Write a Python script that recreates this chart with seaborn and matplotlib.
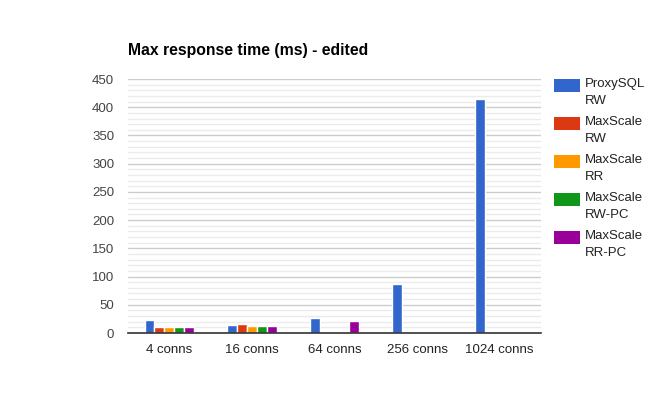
import numpy as np
import pandas as pd
import matplotlib
matplotlib.use("Agg")
import matplotlib.pyplot as plt
import seaborn as sns
from matplotlib.patches import Rectangle
from matplotlib.ticker import MultipleLocator

categories = ["4 conns", "16 conns", "64 conns", "256 conns", "1024 conns"]
series = ["ProxySQL RW", "MaxScale RW", "MaxScale RR", "MaxScale RW-PC", "MaxScale RR-PC"]
proxysql_rw = [23, 14, 27, 87, 415]
maxscale_rw = [11, 16.5, np.nan, np.nan, np.nan]
maxscale_rr = [11, 12.5, np.nan, np.nan, np.nan]
maxscale_rw_pc = [11, 12.5, np.nan, np.nan, np.nan]
maxscale_rr_pc = [11, 12.5, 21.5, np.nan, np.nan]
colors = ["#3366cc", "#dc3912", "#ff9900", "#109618", "#990099"]
legend_labels = ["ProxySQL\nRW", "MaxScale\nRW", "MaxScale\nRR", "MaxScale\nRW-PC", "MaxScale\nRR-PC"]

rows = []
for s, vals in zip(series, [proxysql_rw, maxscale_rw, maxscale_rr, maxscale_rw_pc, maxscale_rr_pc]):
    for c, v in zip(categories, vals):
        rows.append({"conns": c, "series": s, "value": v})
df = pd.DataFrame(rows)

sns.set_theme(style="white")
plt.rcParams['font.family'] = ['Liberation Sans', 'DejaVu Sans']

W, H = 668, 413
fig = plt.figure(figsize=(W / 100, H / 100), dpi=100)
ax = fig.add_axes([128 / W, 1 - 333 / H, (541 - 128) / W, (333 - 79) / H])

sns.barplot(data=df, x="conns", y="value", hue="series", order=categories,
            hue_order=series, palette=colors, saturation=1, width=0.6, ax=ax,
            edgecolor="white", linewidth=1, legend=False, errorbar=None)

ax.set_ylim(0, 450)
ax.yaxis.set_major_locator(MultipleLocator(50))
ax.yaxis.set_minor_locator(MultipleLocator(10))
ax.grid(axis="y", which="major", color="#cccccc", linewidth=1)
ax.grid(axis="y", which="minor", color="#ebebeb", linewidth=1)
ax.set_axisbelow(True)
for sp in ["top", "right", "left"]:
    ax.spines[sp].set_visible(False)
ax.spines["bottom"].set_color("#333333")
ax.spines["bottom"].set_linewidth(1.2)
ax.set_xlabel("")
ax.set_ylabel("")
ax.tick_params(axis="both", which="both", length=0, labelsize=9.5, labelcolor="#222222")
ax.tick_params(axis="y", pad=10)
ax.tick_params(axis="x", pad=8)
for lbl in ax.get_yticklabels():
    lbl.set_color("#444444")

fig.text(128 / W, 1 - 50 / H, "Max response time (ms) - edited", fontsize=11.3,
         fontweight="bold", color="#000000", va="center", ha="left")

# legend (entries with patch aligned to the first text line)
for i, (c, lab) in enumerate(zip(colors, legend_labels)):
    top = 79 + 38 * i
    fig.patches.append(Rectangle((554 / W, 1 - (top + 13) / H), 26 / W, 13 / H,
                                 transform=fig.transFigure, facecolor=c, edgecolor="none"))
    fig.text(585 / W, 1 - (top - 1) / H, lab, fontsize=9.5, color="#222222",
             va="top", ha="left", linespacing=1.6)

fig.savefig("out.png", dpi=100, facecolor="white")
